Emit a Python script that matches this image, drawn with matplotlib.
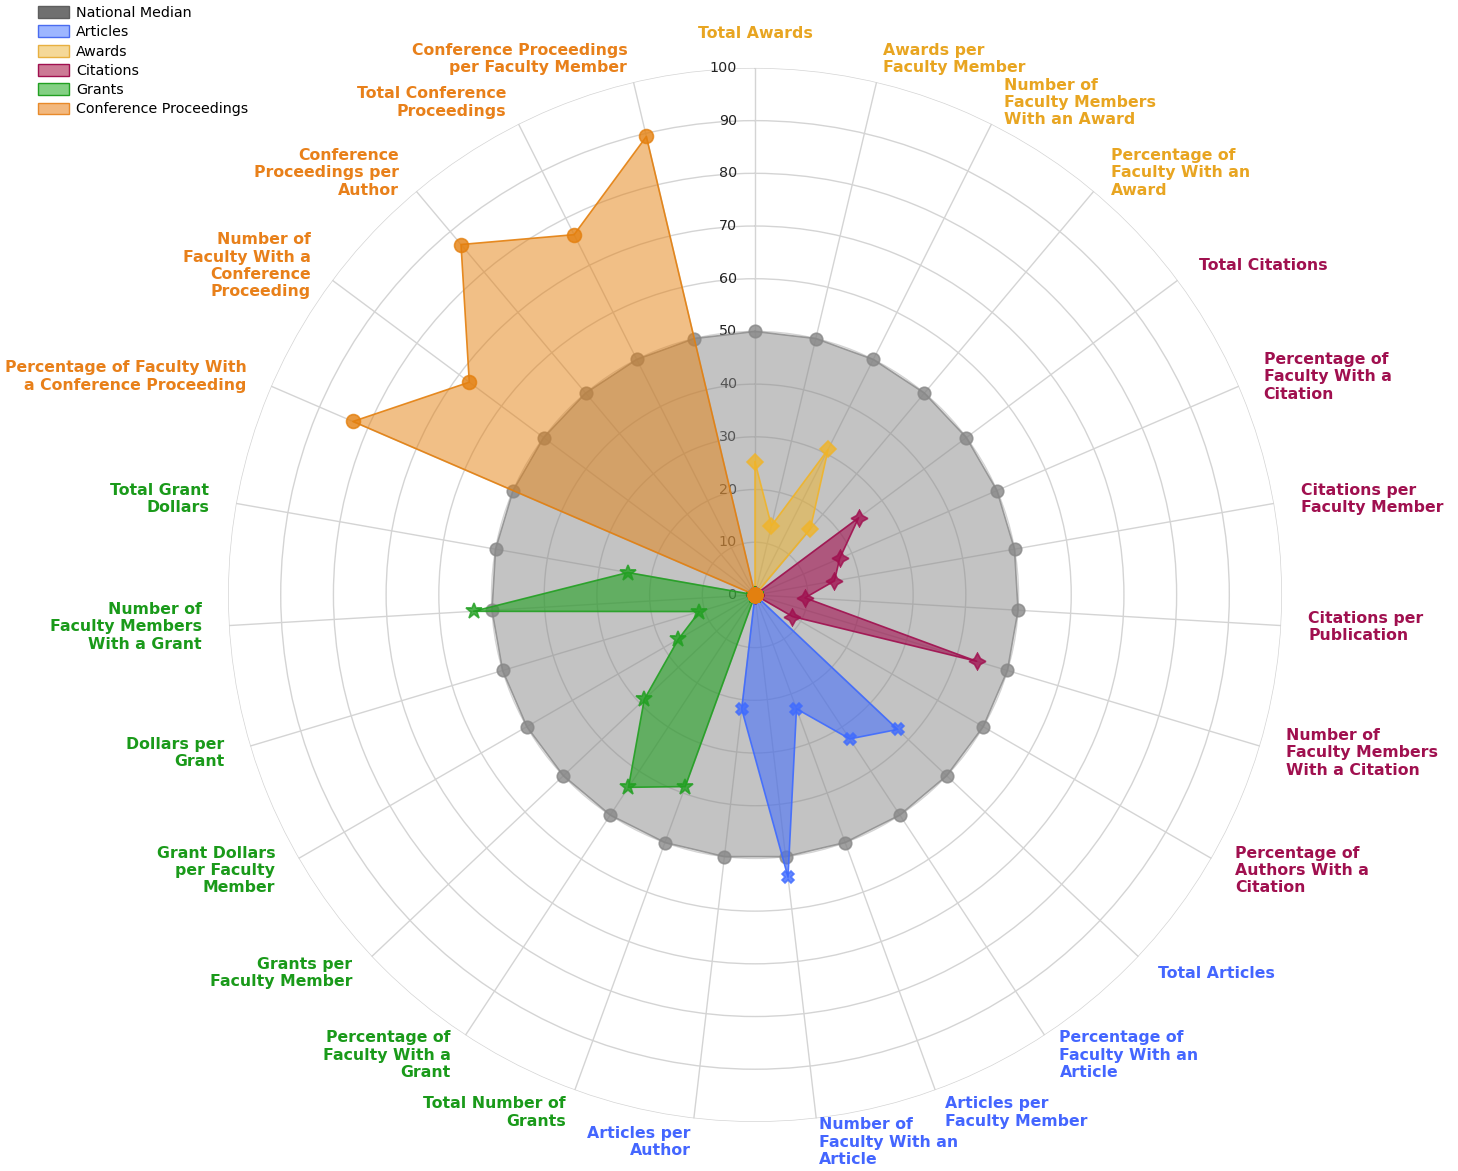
import numpy as np
import matplotlib.pyplot as plt
from matplotlib.patches import Patch

# axes, clockwise from the top
categories = [
    "Total Awards", "Awards per\nFaculty Member", "Number of\nFaculty Members\nWith an Award",
    "Percentage of\nFaculty With an\nAward", "Total Citations",
    "Percentage of\nFaculty With a\nCitation", "Citations per\nFaculty Member",
    "Citations per\nPublication", "Number of\nFaculty Members\nWith a Citation",
    "Percentage of\nAuthors With a\nCitation", "Total Articles",
    "Percentage of\nFaculty With an\nArticle", "Articles per\nFaculty Member",
    "Number of\nFaculty With an\nArticle", "Articles per\nAuthor",
    "Total Number of\nGrants", "Percentage of\nFaculty With a\nGrant",
    "Grants per\nFaculty Member", "Grant Dollars\nper Faculty\nMember",
    "Dollars per\nGrant", "Number of\nFaculty Members\nWith a Grant",
    "Total Grant\nDollars", "Percentage of Faculty With\na Conference Proceeding",
    "Number of\nFaculty With a\nConference\nProceeding", "Conference\nProceedings per\nAuthor",
    "Total Conference\nProceedings", "Conference Proceedings\nper Faculty Member",
]
groups = (["Awards"] * 4 + ["Citations"] * 6 + ["Articles"] * 5
          + ["Grants"] * 7 + ["Conference Proceedings"] * 5)

national_median = [50, 50, 50, 50, 50, 50, 50, 50, 50, 50, 50, 50, 50, 50,
                   50, 50, 50, 50, 50, 50, 50, 50, 50, 50, 50, 50, 50]
awards = [25.2, 13.5, 30.9, 16.3, 0, 0, 0, 0, 0, 0, 0, 0, 0, 0,
          0, 0, 0, 0, 0, 0, 0, 0, 0, 0, 0, 0, 0]
citations = [0, 0, 0, 0, 24.5, 17.5, 15.3, 9.5, 43.9, 8.2, 0, 0, 0, 0,
             0, 0, 0, 0, 0, 0, 0, 0, 0, 0, 0, 0, 0]
articles = [0, 0, 0, 0, 0, 0, 0, 0, 0, 0, 37.2, 32.7, 23.0, 53.9,
            21.8, 0, 0, 0, 0, 0, 0, 0, 0, 0, 0, 0, 0]
grants = [0, 0, 0, 0, 0, 0, 0, 0, 0, 0, 0, 0, 0, 0,
          0, 38.7, 43.7, 28.9, 16.8, 11.0, 53.5, 24.5, 0, 0, 0, 0, 0]
conference = [0, 0, 0, 0, 0, 0, 0, 0, 0, 0, 0, 0, 0, 0,
              0, 0, 0, 0, 0, 0, 0, 0, 83.1, 67.6, 86.8, 76.5, 89.4]

label_colors = {"Awards": "#E8A521", "Citations": "#A0104F", "Articles": "#4466FF",
                "Grants": "#1A9A1A", "Conference Proceedings": "#E8801A"}

fig = plt.figure(figsize=(14.58, 11.71), dpi=100)
ax = fig.add_axes([0.1564, 0.0419, 0.7229, 0.9001], projection="polar")
ax.set_theta_zero_location("N")
ax.set_theta_direction(-1)

n = len(categories)
theta = np.linspace(0, 2 * np.pi, n, endpoint=False)

ax.set_ylim(0, 100)
ax.set_yticks(range(10, 101, 10))
ax.set_yticklabels([])
ax.set_xticks(theta)
ax.set_xticklabels([])
ax.grid(color="#D4D4D4", lw=1)
ax.spines["polar"].set_visible(False)
ax.tick_params(length=0)

# radial scale labels
for v in range(0, 101, 10):
    ax.annotate(str(v), xy=(0, v), xytext=(-18, 0), textcoords="offset pixels",
                ha="right", va="center", fontsize=10.3, color="#222222")


def radar(vals, color, marker, ms, alpha, z, line_alpha=0.9, mfc_alpha=0.45):
    t = np.append(theta, theta[0])
    v = np.append(vals, vals[0])
    ax.fill(t, v, color=color, alpha=alpha, lw=0, zorder=z)
    ax.plot(t, v, color=color, lw=1.2, alpha=line_alpha, zorder=z + 0.1)
    ax.plot(theta, vals, ls="none", marker=marker, ms=ms, mfc=(color, mfc_alpha),
            mec=color, mew=1.2, alpha=0.8, zorder=z + 0.2)


radar(national_median, "#888888", "o", 9, 0.5, 3, line_alpha=0.8, mfc_alpha=0.3)
radar(awards, "#F0B429", "D", 8.5, 0.5, 4)
radar(citations, "#A0104F", (4, 1, 0), 12, 0.6, 5)
radar(articles, "#3F6BFF", "X", 9, 0.55, 6)
radar(grants, "#22A022", "*", 12, 0.6, 7)
radar(conference, "#E4800F", "o", 10, 0.5, 8)

# category labels around the outside
for ang, lab, g in zip(theta, categories, groups):
    s, c = np.sin(ang), np.cos(ang)
    if s > 0.05:
        ha = "left"
    elif s < -0.05:
        ha = "right"
    else:
        ha = "center"
    dy = 24 * c if ang > 0 else 34
    ax.annotate(lab, xy=(ang, 100), xytext=(27 * s, dy), textcoords="offset pixels",
                ha=ha, va="center", multialignment=ha, fontsize=11.3, fontweight="bold",
                color=label_colors[g], linespacing=1.2, annotation_clip=False)

handles = [
    Patch(facecolor="#707070", edgecolor="#5E5E5E", label="National Median"),
    Patch(facecolor="#9DB6FF", edgecolor="#4A6CF0", label="Articles"),
    Patch(facecolor="#F5D898", edgecolor="#E8B040", label="Awards"),
    Patch(facecolor="#CC7A95", edgecolor="#A0104F", label="Citations"),
    Patch(facecolor="#84D084", edgecolor="#22A022", label="Grants"),
    Patch(facecolor="#F2B87E", edgecolor="#E88A2A", label="Conference Proceedings"),
]
fig.legend(handles=handles, loc="upper left", bbox_to_anchor=(38 / 1458, 1 - 6 / 1171),
           frameon=False, fontsize=10.3, handlelength=2.2, handleheight=0.9,
           handletextpad=0.45, labelspacing=0.37, borderpad=0, borderaxespad=0)

fig.savefig("out.png", dpi=100)
